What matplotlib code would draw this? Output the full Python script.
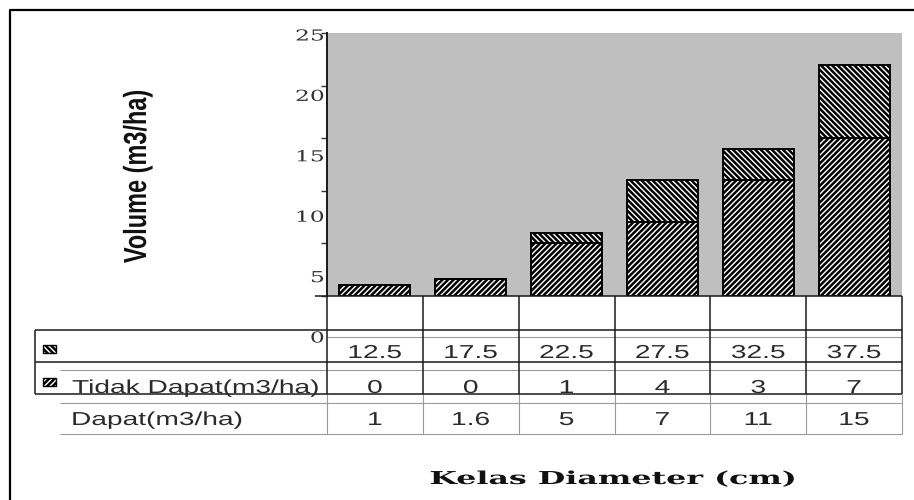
import numpy as np
import matplotlib
matplotlib.use('Agg')
import matplotlib.pyplot as plt
from matplotlib.patches import Rectangle
from matplotlib.patheffects import AbstractPathEffect
from matplotlib.transforms import Affine2D, blended_transform_factory

# ---------------- data ----------------
categories = ['12.5', '17.5', '22.5', '27.5', '32.5', '37.5']
dapat = [1, 1.6, 5, 7, 11, 15]
tidak_dapat = [0, 0, 1, 4, 3, 7]
series_names = ['Tidak Dapat(m3/ha)', 'Dapat(m3/ha)']
y_ticks = [0, 5, 10, 15, 20, 25]
y_label = 'Volume (m3/ha)'
x_label = 'Kelas Diameter (cm)'


class Stretch(AbstractPathEffect):
    """Horizontally stretch text glyphs (the reference image is stretched)."""
    def __init__(self, sx=1.0, anchor='center', target=None):
        super().__init__()
        self.sx, self.anchor, self.target = sx, anchor, target

    def draw_path(self, renderer, gc, tpath, affine, rgbFace=None):
        ext = tpath.get_extents()
        sx = self.sx
        if self.target is not None and ext.width > 0:
            m = affine.get_matrix()
            s = np.hypot(m[0, 0], m[1, 0])
            sx = self.target / (ext.width * s)
        if self.anchor == 'left':
            cx = 0.0
        elif self.anchor == 'right':
            cx = ext.x1
        else:
            cx = 0.5 * (ext.x0 + ext.x1)
        pre = Affine2D().translate(-cx, 0).scale(sx, 1.0).translate(cx, 0)
        renderer.draw_path(gc, tpath, pre + affine, rgbFace)


plt.rcParams['hatch.linewidth'] = 1.8

W, H = 914, 500
fig = plt.figure(figsize=(W / 100, H / 100), dpi=100)
fig.patch.set_facecolor('white')


def fx(px):
    return px / W


def fy(py):
    return 1 - py / H


HATCH_LOW = '//////'
HATCH_UP = '\\\\\\\\\\\\'

# ---------------- main plot area ----------------
ax = fig.add_axes([fx(327), fy(296), (902 - 327) / W, (296 - 33) / H], zorder=1)
ax.set_facecolor('#bfbfbf')
x = np.arange(len(categories))
ax.bar(x, dapat, width=0.74, color='white', edgecolor='black',
       hatch=HATCH_LOW, linewidth=1.4, zorder=2)
ax.bar(x, tidak_dapat, bottom=dapat, width=0.74, color='white',
       edgecolor='black', hatch=HATCH_UP, linewidth=1.4, zorder=2)
ax.set_xlim(-0.5, len(categories) - 0.5)
ax.set_ylim(0, 25)
ax.set_xticks([])
ax.set_yticks(y_ticks)
ax.set_yticklabels([])
ax.tick_params(axis='y', direction='out', length=4, width=1, color='#333333')
for s in ['top', 'right', 'bottom']:
    ax.spines[s].set_visible(False)
ax.spines['left'].set_color('#1a1a1a')
ax.spines['left'].set_linewidth(1.4)

# tick labels (placed as in the reference)
lab = fig.add_axes([fx(327), fy(337), 0.0005, (337 - 35) / H], zorder=2)
lab.set_ylim(0, 25)
lab.set_yticks(y_ticks)
lab.set_yticklabels([str(t) for t in y_ticks], fontfamily='DejaVu Serif',
                    fontsize=10.9, color='#333333')
lab.tick_params(axis='y', length=0, pad=2)
lab.set_xticks([])
lab.patch.set_visible(False)
for s in lab.spines.values():
    s.set_visible(False)
for t in lab.get_yticklabels():
    t.set_path_effects([Stretch(1.55, 'right')])

# ---------------- overlay (table, labels, frame) ----------------
ov = fig.add_axes([0, 0, 1, 1], zorder=5)
ov.set_xlim(0, W)
ov.set_ylim(H, 0)
ov.axis('off')
blend = blended_transform_factory(ax.transData, ov.transData)

dark = dict(color='#1a1a1a', lw=1.1, solid_capstyle='butt')
grey = dict(color='#9a9a9a', lw=0.8, solid_capstyle='butt')

# light inner lines
ov.plot([327, 902], [337, 337], **grey)
for yy in [370, 403, 434]:
    ov.plot([60, 902], [yy, yy], **grey)
edges = np.arange(len(categories) + 1) - 0.5
for e in edges:
    ov.plot([e, e], [394, 434], transform=blend, **grey)
# dark cell borders
for e in edges:
    ov.plot([e, e], [296, 394], transform=blend, **dark)
ov.plot([315, 902], [296, 296], **dark)
for yy in [330, 362, 394]:
    ov.plot([35, 902], [yy, yy], **dark)
ov.plot([35, 35], [330, 394], **dark)

# legend keys
ov.add_patch(Rectangle((43, 345), 13, 8, facecolor='white', edgecolor='black',
                       hatch=HATCH_UP, lw=1.0))
ov.add_patch(Rectangle((43, 378), 13, 8, facecolor='white', edgecolor='black',
                       hatch=HATCH_LOW, lw=1.0))

tfont = dict(family=['Liberation Sans', 'DejaVu Sans'], size=13.5, color='#2b2b2b')
for i, c in enumerate(categories):
    ov.text(i, 358, c, transform=blend, ha='center', va='baseline',
            path_effects=[Stretch(1.5)], **tfont)
for i, v in enumerate(tidak_dapat):
    ov.text(i, 393, f'{v:g}', transform=blend, ha='center', va='baseline',
            path_effects=[Stretch(1.5)], **tfont)
for i, v in enumerate(dapat):
    ov.text(i, 425, f'{v:g}', transform=blend, ha='center', va='baseline',
            path_effects=[Stretch(1.5)], **tfont)
ov.text(72, 393, series_names[0], ha='left', va='baseline',
        path_effects=[Stretch(1.5, 'left')], **tfont)
ov.text(71, 425, series_names[1], ha='left', va='baseline',
        path_effects=[Stretch(1.5, 'left')], **tfont)

# axis titles
ov.text(146, 176, y_label, rotation=90, rotation_mode='anchor', ha='center',
        va='baseline', fontsize=23, fontweight='bold',
        family=['Liberation Sans', 'DejaVu Sans'], color='#111111',
        path_effects=[Stretch(target=172)])
ov.text(613, 484, x_label, ha='center', va='baseline', fontsize=12.8,
        fontweight='bold', family='DejaVu Serif', color='#111111',
        path_effects=[Stretch(target=363)])

# outer frame
ov.plot([9.5, 9.5, W + 5], [H + 5, 9.5, 9.5], color='black', lw=1.6)

fig.savefig('out.png', dpi=100, facecolor='white')
